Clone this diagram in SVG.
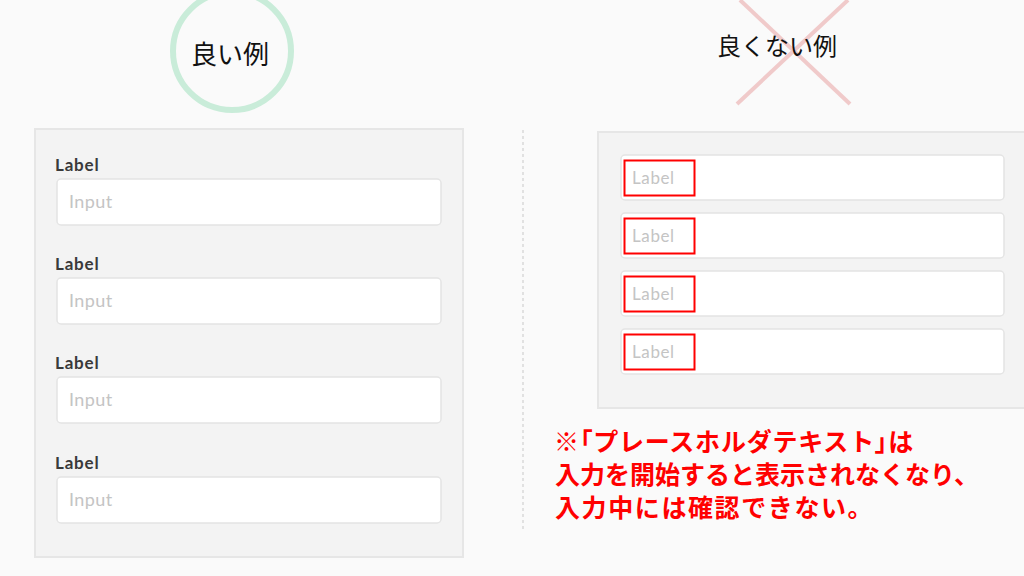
<svg xmlns="http://www.w3.org/2000/svg" width="1024" height="576" viewBox="0 0 1024 576">
<style>
.panel{fill:#f3f3f3;stroke:#e6e6e6;stroke-width:2}
.inp{fill:#fff;stroke:#e4e4e4;stroke-width:1.5}
.lbl{font-family:Lato,"Liberation Sans",sans-serif;font-size:17px;font-weight:bold;letter-spacing:0.8px;fill:#3a3a3a}
.ph{font-family:Lato,"Liberation Sans",sans-serif;font-size:18px;letter-spacing:0.4px;fill:#c4c4c4}
.ph2{font-family:Lato,"Liberation Sans",sans-serif;font-size:17px;letter-spacing:0.6px;fill:#c4c4c4}
.ttl{font-family:"Noto Sans CJK JP",sans-serif;fill:#111}
.note{font-family:"Noto Sans CJK JP",sans-serif;font-size:25px;font-weight:bold;fill:#ff0000}
.br{font-feature-settings:"palt"}
.mark{fill:none;stroke:#ff0000;stroke-width:2}
</style>
<rect width="1024" height="576" fill="#fafafa"/>
<g id="good-title">
<circle cx="232" cy="51" r="59" fill="none" stroke="#c9ecd9" stroke-width="6"/>
<text class="ttl" x="230" y="64" font-size="26" text-anchor="middle">良い例</text>
</g>
<g id="bad-title">
<line x1="740" y1="0" x2="850" y2="104" stroke="#f0caca" stroke-width="4"/>
<line x1="848" y1="0" x2="737" y2="104" stroke="#f0caca" stroke-width="4"/>
<text class="ttl" x="777" y="55" font-size="24" text-anchor="middle">良くない例</text>
</g>
<g id="divider">
<line x1="523" y1="130" x2="523" y2="532" stroke="#c8c8c8" stroke-width="1" stroke-dasharray="3,3"/>
</g>
<g id="good-panel">
<rect class="panel" x="35" y="129" width="428" height="428"/>
<text class="lbl" x="55" y="171">Label</text>
<rect class="inp" x="57" y="179" width="384" height="46" rx="4"/>
<text class="ph" x="69" y="208">Input</text>
<text class="lbl" x="55" y="270">Label</text>
<rect class="inp" x="57" y="278" width="384" height="46" rx="4"/>
<text class="ph" x="69" y="307">Input</text>
<text class="lbl" x="55" y="369">Label</text>
<rect class="inp" x="57" y="377" width="384" height="46" rx="4"/>
<text class="ph" x="69" y="406">Input</text>
<text class="lbl" x="55" y="469">Label</text>
<rect class="inp" x="57" y="477" width="384" height="46" rx="4"/>
<text class="ph" x="69" y="506">Input</text>
</g>
<g id="bad-panel">
<rect class="panel" x="598" y="132" width="430" height="276"/>
<rect class="inp" x="621" y="155" width="383" height="45" rx="4"/>
<text class="ph2" x="632" y="184">Label</text>
<rect class="mark" x="624.5" y="160.5" width="70" height="35"/>
<rect class="inp" x="621" y="213" width="383" height="45" rx="4"/>
<text class="ph2" x="632" y="242">Label</text>
<rect class="mark" x="624.5" y="218.5" width="70" height="35"/>
<rect class="inp" x="621" y="271" width="383" height="45" rx="4"/>
<text class="ph2" x="632" y="300">Label</text>
<rect class="mark" x="624.5" y="276.5" width="70" height="35"/>
<rect class="inp" x="621" y="329" width="383" height="45" rx="4"/>
<text class="ph2" x="632" y="358">Label</text>
<rect class="mark" x="624.5" y="334.5" width="70" height="35"/>
</g>
<g id="note">
<text class="note" x="554" y="451" letter-spacing="0.8">※<tspan class="br">「</tspan>プレースホルダテキスト<tspan class="br">」</tspan>は</text>
<text class="note" x="555" y="484">入力を開始すると表示されなくなり、</text>
<text class="note" x="555" y="517" letter-spacing="1.6">入力中には確認できない。</text>
</g>
</svg>
